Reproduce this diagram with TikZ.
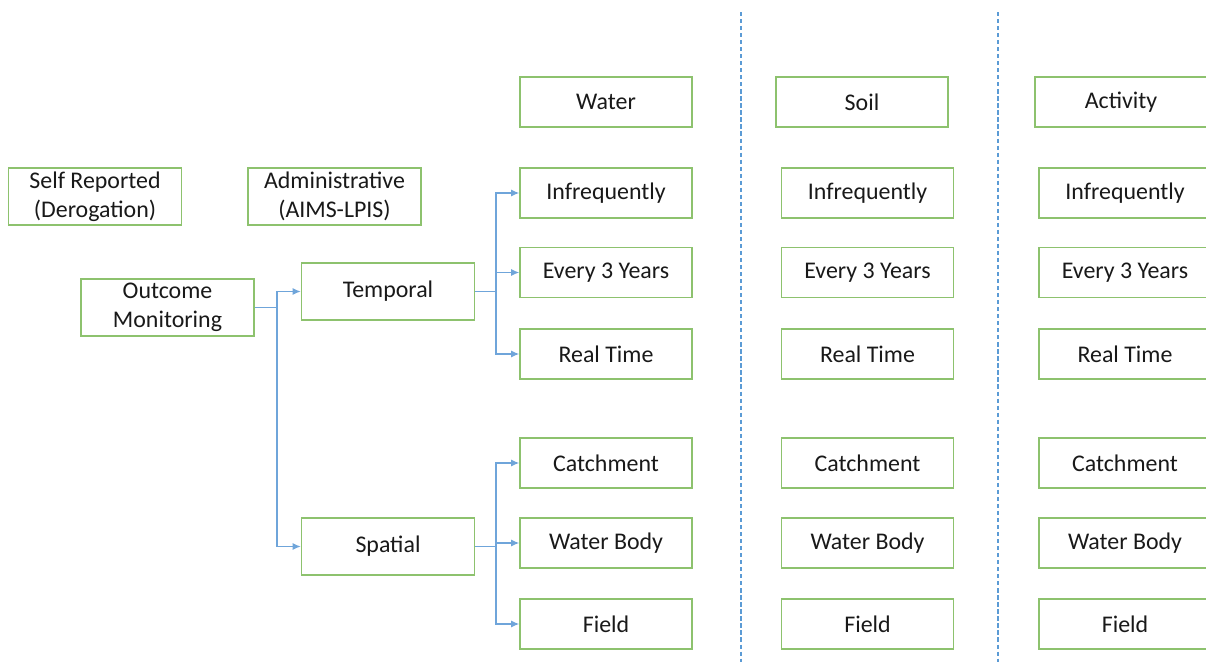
\documentclass[tikz,border=0pt]{standalone}
\usepackage{fontspec}
\setmainfont{Carlito}
\usetikzlibrary{arrows.meta}
\definecolor{boxgreen}{HTML}{8DC26E}
\definecolor{linkblue}{HTML}{6FA5DA}
\definecolor{sepblue}{HTML}{5B9BD5}
\begin{document}
\begin{tikzpicture}[x=0.02cm, y=-0.02cm,
  every node/.style={font=\fontsize{13.6}{16.5}\selectfont, text=black!90},
  box/.style={draw=boxgreen, line width=0.8pt, fill=white, inner sep=0pt,
    minimum width=3.44cm, minimum height=1cm, align=center},
  tallbox/.style={box, minimum width=3.46cm, minimum height=1.14cm},
  link/.style={draw=linkblue, line width=0.8pt},
  arr/.style={link, -{Latex[length=4.6pt, width=4pt]}},
  sep/.style={draw=sepblue, line width=0.6pt, dash pattern=on 2.4pt off 1.6pt}]
\useasboundingbox (0,0) rectangle (1206,666);
\clip (0,0) rectangle (1206,666);

% column separators
\draw[sep] (741,12) -- (741,662);
\draw[sep] (998,12) -- (998,662);

% column headings
\node[box] (water) at (606,102) {Water};
\node[box] (soil) at (862,102) {Soil};
\node[box] (activity) at (1121,102) {Activity};

% sources and the root
\node[tallbox] (self) at (95,196.5) {Self Reported\\(Derogation)};
\node[tallbox] (admin) at (334.5,196.5) {Administrative\\(AIMS-LPIS)};
\node[tallbox] (outcome) at (167.5,307.5) {Outcome\\Monitoring};
\node[tallbox] (temporal) at (388,291.5) {Temporal};
\node[tallbox] (spatial) at (388,546.5) {Spatial};

% three columns of options
\foreach \col/\cx in {a/606, b/867.5, c/1125} {
  \node[box] (\col1) at (\cx,193) {Infrequently};
  \node[box] (\col2) at (\cx,272.5) {Every 3 Years};
  \node[box] (\col3) at (\cx,354) {Real Time};
  \node[box] (\col4) at (\cx,463) {Catchment};
  \node[box] (\col5) at (\cx,543) {Water Body};
  \node[box] (\col6) at (\cx,624) {Field};
}

% junction points
\coordinate (jo) at (277,307.5);
\coordinate (jt) at (496,291.5);
\coordinate (js) at (496,546.5);

% root to temporal / spatial
\draw[link] (outcome.east) -- (jo);
\draw[arr] (jo) |- (temporal.west);
\draw[arr] (jo) |- (spatial.west);

% temporal branches
\draw[link] (temporal.east) -- (jt);
\draw[arr] (jt) |- (a1.west);
\draw[arr] (jt) |- (a2.west);
\draw[arr] (jt) |- (a3.west);

% spatial branches
\draw[link] (spatial.east) -- (js);
\draw[arr] (js) |- (a4.west);
\draw[arr] (js) |- (a5.west);
\draw[arr] (js) |- (a6.west);
\end{tikzpicture}
\end{document}
